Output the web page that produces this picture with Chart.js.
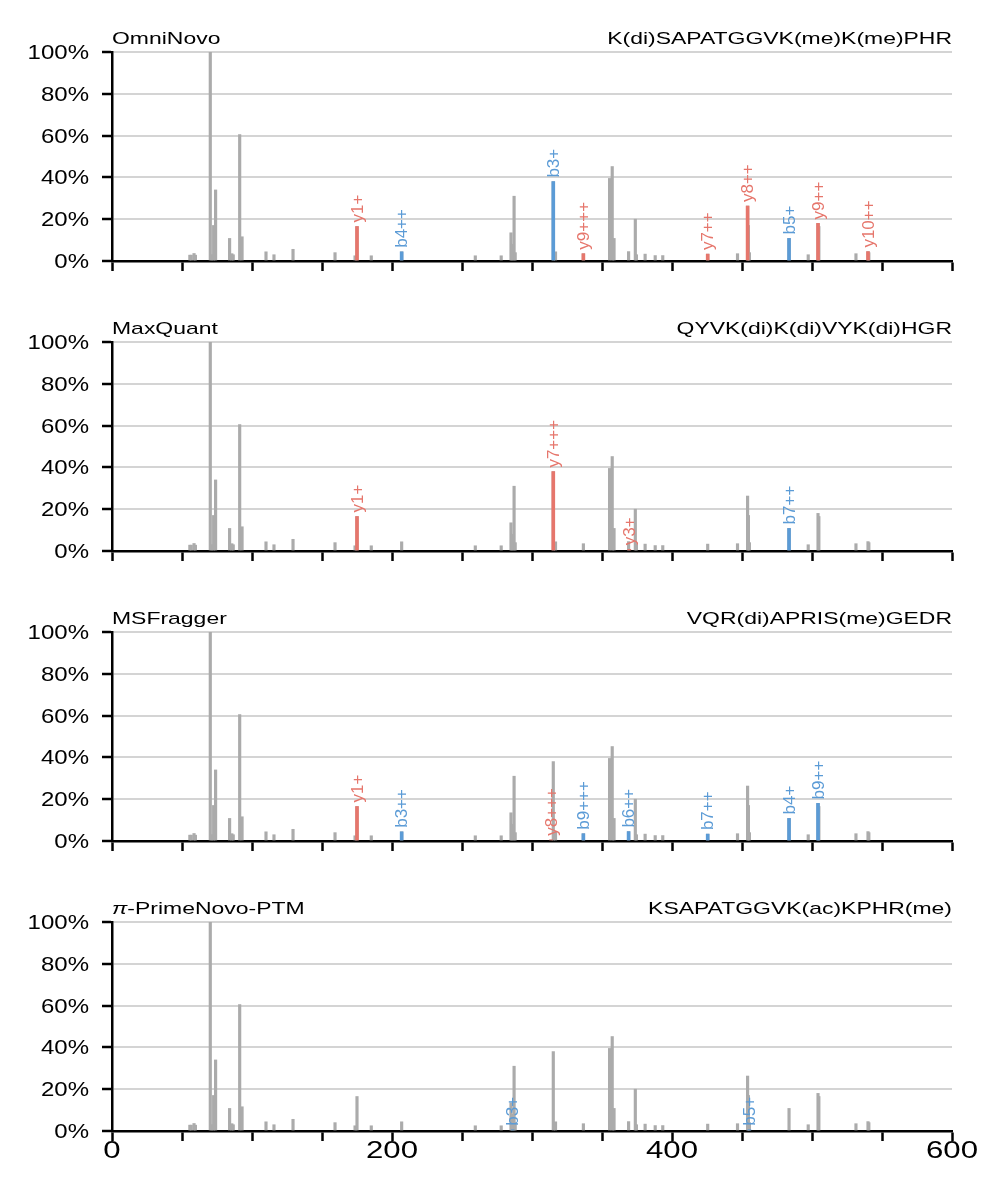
<!DOCTYPE html>
<html>
<head>
<meta charset="utf-8">
<script src="https://cdn.jsdelivr.net/npm/chart.js@4.4.1/dist/chart.umd.min.js"></script>
<style>
  body { margin: 0; background: #fff; }
  .panel { position: absolute; left: 0; }
</style>
</head>
<body>
<div id="wrap"></div>
<script>
// shared spectrum (m/z, relative intensity %)
const peakMz = [55.6, 56.6, 58.6, 59.6, 70.2, 71.4, 72.6, 74.0, 84.0, 85.6, 86.6, 91.2, 92.9,
  110.0, 115.7, 129.3, 159.3, 173.6, 175.0, 185.2, 206.9, 259.5, 278.0, 285.0, 285.7, 287.2, 288.0,
  315.2, 316.8, 336.7, 355.4, 357.3, 358.6, 369.0, 373.8, 374.6, 380.8, 388.0, 393.4, 425.5,
  446.8, 454.0, 454.6, 455.3, 483.6, 497.3, 504.3, 504.9, 531.4, 540.0, 540.6];
const peakInt = [2.8, 2.8, 3.6, 2.8, 100, 3, 17, 34, 10.8, 3.5, 3, 60.5, 11.6,
  4.4, 3, 5.6, 4, 2.5, 16.5, 2.5, 4.4, 2.5, 2.5, 13.5, 8, 31, 4,
  38, 4.4, 3.5, 39.5, 45.2, 10.8, 4.5, 20, 3, 3.3, 2.6, 2.6, 3.3,
  3.5, 26.3, 17, 4, 10.8, 3, 18, 16.5, 3.5, 4.5, 4];

const xTicks = [0, 200, 400, 600];
const yTicks = [0, 20, 40, 60, 80, 100];

// per-panel tools and peptides
const toolNames = ['OmniNovo', 'MaxQuant', 'MSFragger', '\u03C0-PrimeNovo-PTM'];
const peptides = ['K(di)SAPATGGVK(me)K(me)PHR', 'QYVK(di)K(di)VYK(di)HGR', 'VQR(di)APRIS(me)GEDR', 'KSAPATGGVK(ac)KPHR(me)'];

// annotated ions
const omniMz = [175.0, 206.9, 315.2, 336.7, 425.5, 454.0, 483.6, 504.3, 540.0];
const omniInt = [16.5, 4.4, 38, 3.5, 3.3, 26.3, 10.8, 18, 4.5];
const omniIon = ['y1+', 'b4++', 'b3+', 'y9+++', 'y7++', 'y8++', 'b5+', 'y9++', 'y10++'];

const maxMz = [175.0, 315.2, 369.5, 483.6];
const maxInt = [16.5, 38, 0.8, 10.8];
const maxIon = ['y1+', 'y7+++', 'y3+', 'b7++'];

const msfMz = [175.0, 206.9, 313.6, 336.7, 369.0, 425.5, 483.6, 504.3];
const msfInt = [16.5, 4.4, 0.6, 3.5, 4.5, 3.3, 10.8, 18];
const msfIon = ['y1+', 'b3++', 'y8+++', 'b9+++', 'b6++', 'b7++', 'b4+', 'b9++'];

const ptmMz = [286.2, 455.3];
const ptmInt = [0.6, 0.6];
const ptmIon = ['b3+', 'b5+'];

const ionMz = [omniMz, maxMz, msfMz, ptmMz];
const ionInt = [omniInt, maxInt, msfInt, ptmInt];
const ionLabels = [omniIon, maxIon, msfIon, ptmIon];

const RED = '#E6766C';
const BLUE = '#5B9BD6';
const GREY = '#ABABAB';
const FONT = '"Liberation Sans", Arial, sans-serif';

function drawStretched(ctx, text, x, y, font, sx, align) {
  ctx.save();
  ctx.font = font;
  ctx.textBaseline = 'alphabetic';
  ctx.textAlign = 'left';
  const w = ctx.measureText(text).width * sx;
  let left = x;
  if (align === 'right') left = x - w;
  if (align === 'center') left = x - w / 2;
  ctx.translate(left, y);
  ctx.scale(sx, 1);
  ctx.fillStyle = '#000';
  ctx.fillText(text, 0, 0);
  ctx.restore();
  return w;
}

const panelText = {
  id: 'panelText',
  afterDraw(chart, args, opts) {
    const ctx = chart.ctx;
    const area = chart.chartArea;
    const ys = chart.scales.y;
    const xs = chart.scales.x;

    // titles
    const ty = area.top - 8;
    if (opts.tool.startsWith('\u03C0')) {
      const w = drawStretched(ctx, '\u03C0', area.left, ty, 'italic 17px ' + FONT, 1.35, 'left');
      drawStretched(ctx, opts.tool.slice(1), area.left + w, ty, '17px ' + FONT, 1.35, 'left');
    } else {
      drawStretched(ctx, opts.tool, area.left, ty, '17px ' + FONT, 1.35, 'left');
    }
    drawStretched(ctx, opts.peptide, area.right, ty, '17px ' + FONT, 1.35, 'right');

    // y tick labels
    yTicks.forEach(v => {
      drawStretched(ctx, v + '%', area.left - 23, ys.getPixelForValue(v) + 7, '20px ' + FONT, 1.2, 'right');
    });

    // x tick labels only on the last panel
    if (opts.showX) {
      xTicks.forEach(v => {
        drawStretched(ctx, String(v), xs.getPixelForValue(v), area.bottom + 27, '24px ' + FONT, 1.3, 'center');
      });
    }

    // ion labels
    const meta = chart.getDatasetMeta(0);
    ctx.save();
    ctx.font = '17px ' + FONT;
    ctx.textAlign = 'left';
    ctx.textBaseline = 'middle';
    meta.data.forEach((bar, i) => {
      const label = opts.labels[i];
      ctx.save();
      ctx.translate(bar.x, bar.y - 4);
      ctx.rotate(-Math.PI / 2);
      ctx.fillStyle = label[0] === 'y' ? RED : BLUE;
      ctx.fillText(label, 0, 1);
      ctx.restore();
    });
    ctx.restore();
  },
};

function createPanel(i) {
  const last = i === 3;
  const height = last ? 331 : 290;
  const div = document.createElement('div');
  div.className = 'panel';
  div.style.top = i * 290 + 'px';
  const canvas = document.createElement('canvas');
  canvas.width = 998;
  canvas.height = height;
  div.appendChild(canvas);
  document.getElementById('wrap').appendChild(div);

  const ions = ionMz[i].map((mz, k) => ({ x: mz, y: ionInt[i][k] }));
  const peaks = peakMz.map((mz, k) => ({ x: mz, y: peakInt[k] }));
  const ionColors = ionLabels[i].map(l => (l[0] === 'y' ? RED : BLUE));

  new Chart(canvas, {
    type: 'bar',
    data: {
      datasets: [
        { data: ions, backgroundColor: ionColors, barThickness: 3, grouped: false, order: 0 },
        { data: peaks, backgroundColor: GREY, barThickness: 2.5, grouped: false, order: 1 },
      ],
    },
    options: {
      responsive: false,
      devicePixelRatio: 1,
      animation: false,
      events: [],
      layout: { padding: { top: 52, right: 46, left: 0, bottom: 0 } },
      plugins: {
        legend: { display: false },
        tooltip: { enabled: false },
        panelText: { tool: toolNames[i], peptide: peptides[i], labels: ionLabels[i], showX: last },
      },
      scales: {
        x: {
          type: 'linear',
          min: 0,
          max: 600,
          offset: false,
          ticks: { stepSize: 50, display: false },
          grid: { offset: false, drawOnChartArea: false, tickColor: '#000', tickLength: 10, tickWidth: 2.5 },
          border: { color: '#000', width: 2.5 },
          afterFit(s) { s.height = height - 261; },
        },
        y: {
          min: 0,
          max: 100,
          ticks: { stepSize: 20, display: false },
          grid: { color: '#D4D4D4', lineWidth: 2, tickColor: '#000', tickLength: 10, tickWidth: 2.5 },
          border: { color: '#000', width: 2.5 },
          afterFit(s) { s.width = 112; },
        },
      },
    },
    plugins: [panelText],
  });
}

[0, 1, 2, 3].forEach(createPanel);
</script>
</body>
</html>
